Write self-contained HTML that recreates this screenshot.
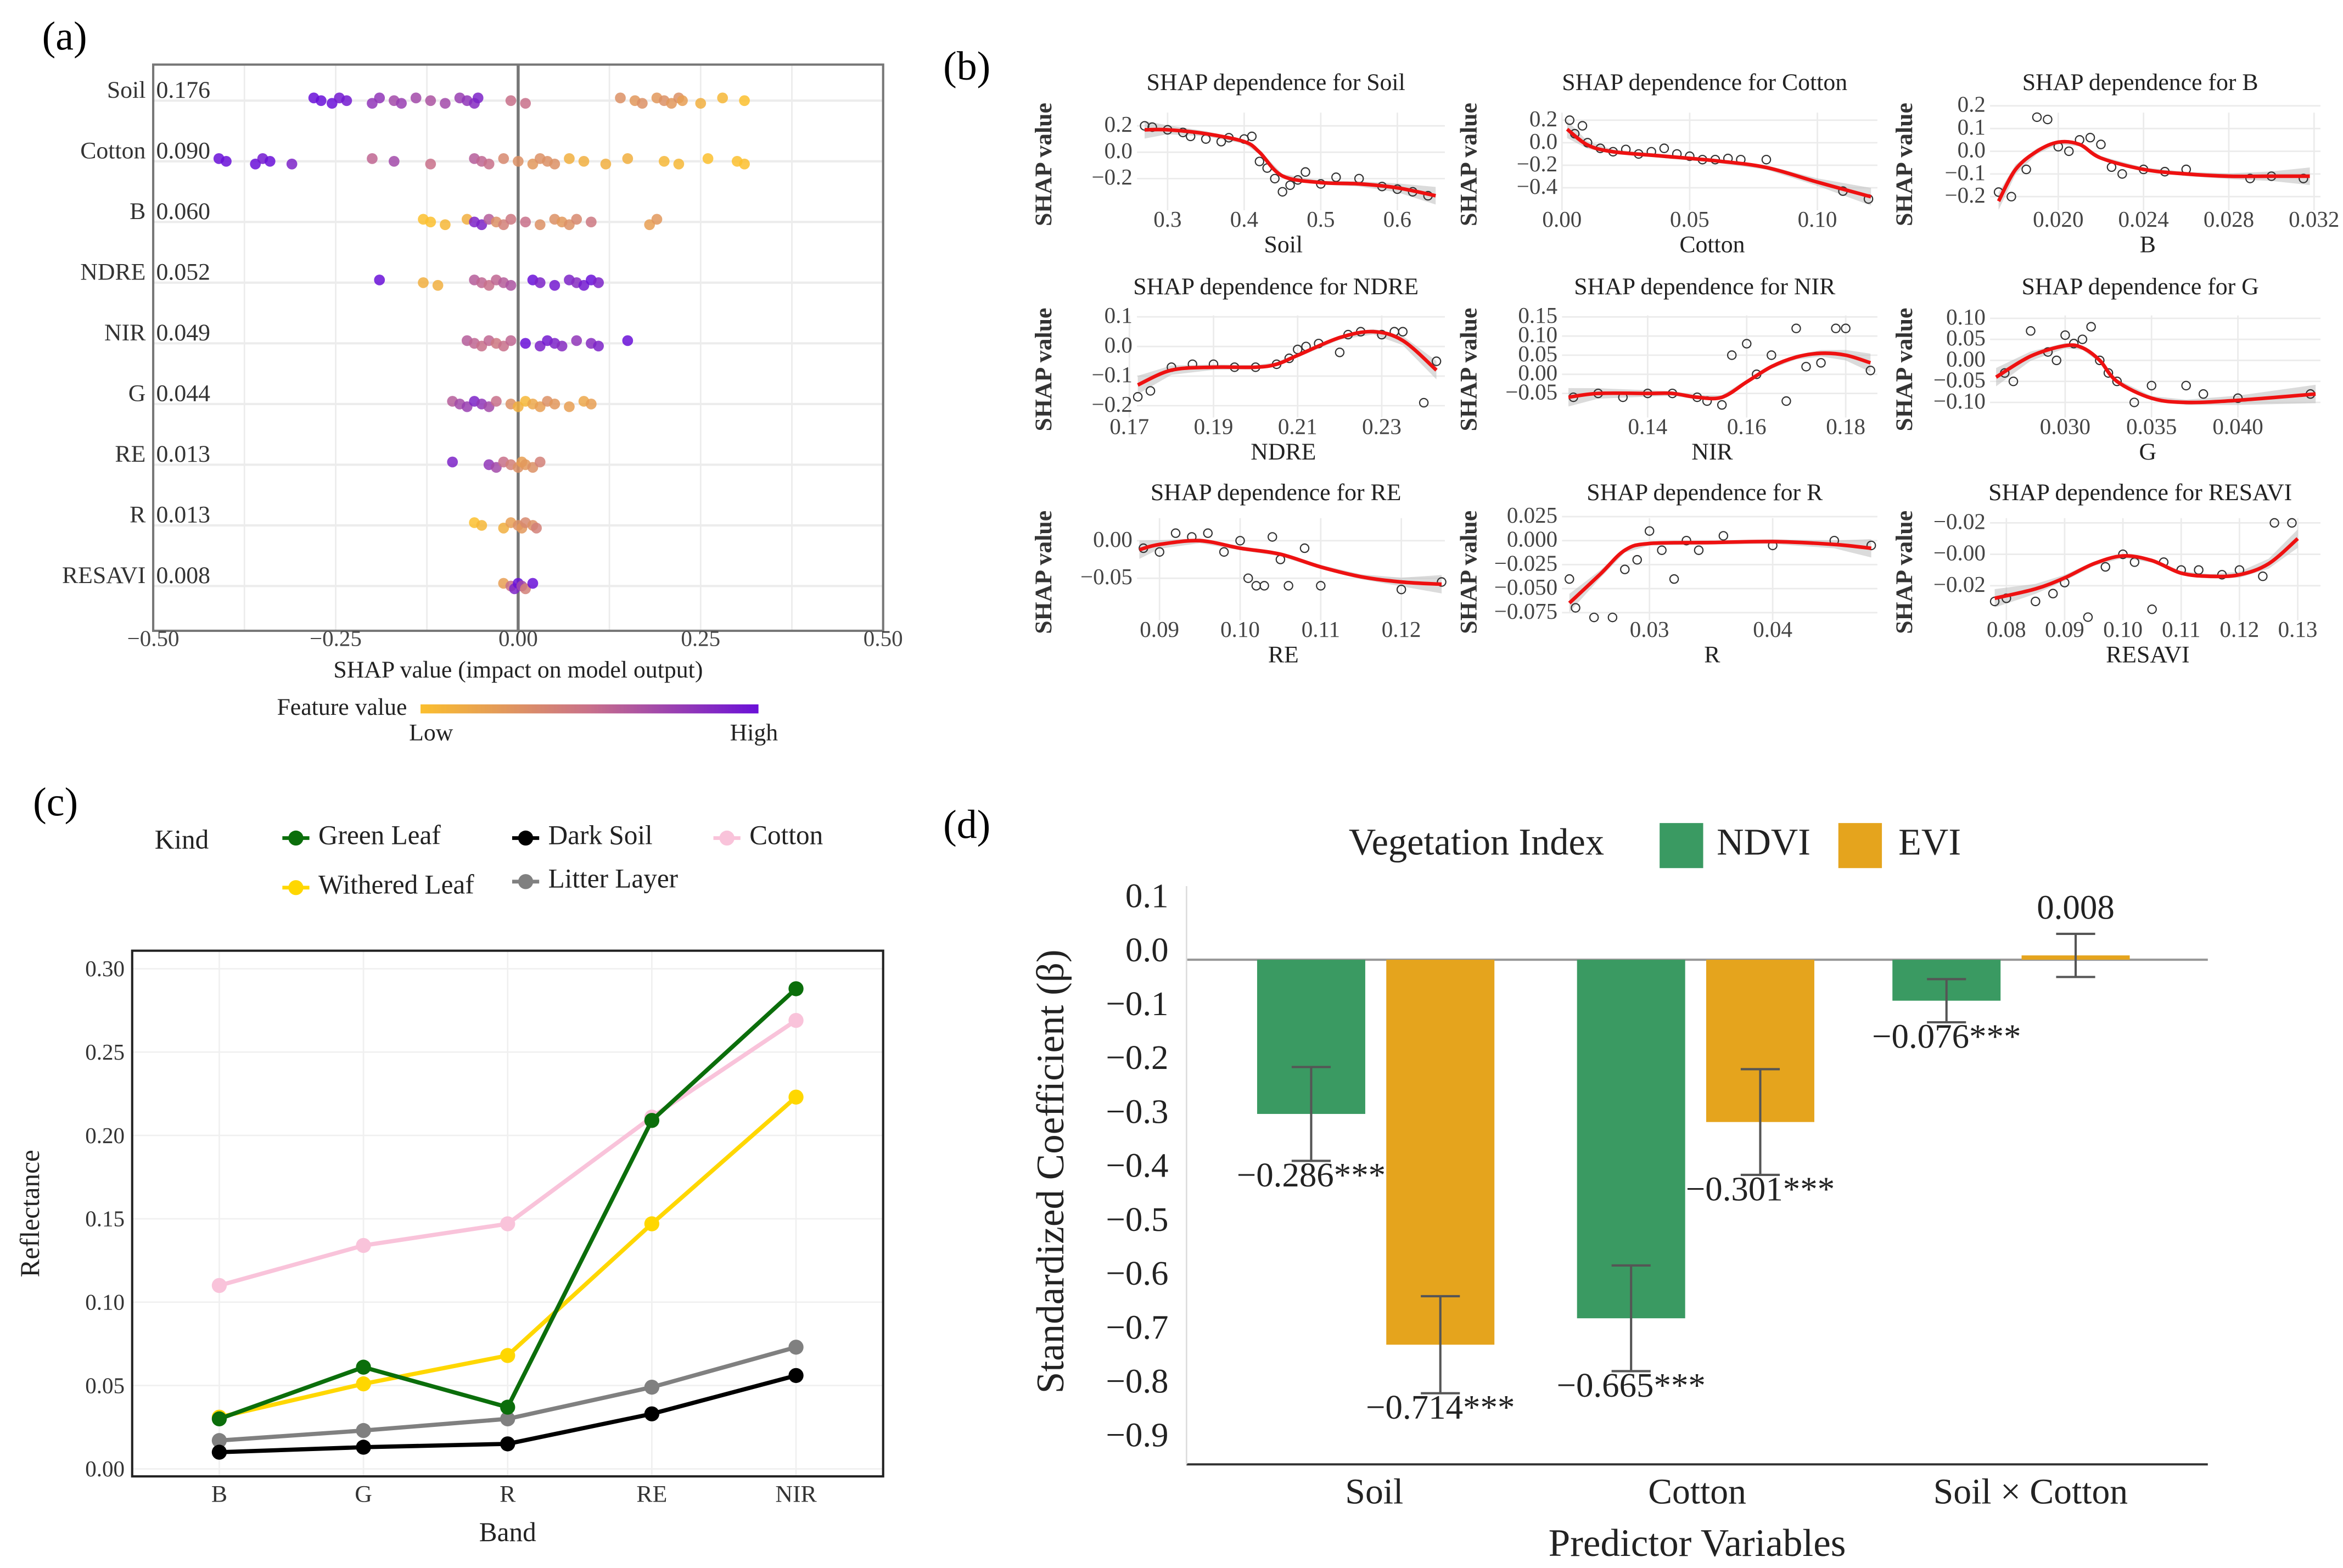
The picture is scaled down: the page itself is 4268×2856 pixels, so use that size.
<!DOCTYPE html>
<html><head><meta charset="utf-8"><style>
html,body{margin:0;padding:0;background:#fff}
svg{display:block;font-family:"Liberation Serif",serif}
</style></head><body>
<svg id="fig" width="4268" height="2856" viewBox="0 0 1560 1044" preserveAspectRatio="none" xmlns="http://www.w3.org/2000/svg">
<defs>
<linearGradient id="fv" x1="0" x2="1"><stop offset="0" stop-color="#fbbf2e"/><stop offset="0.5" stop-color="#c8708a"/><stop offset="1" stop-color="#6a10d8"/></linearGradient>
</defs>
<g id="pa"></g>
<g id="pb"></g>
<g id="pc"></g>
<g id="pd"></g>
</svg>
<script>
// ---------- Panel A data ----------
const aFeatures=["Soil","Cotton","B","NDRE","NIR","G","RE","R","RESAVI"];
const aImportance=["0.176","0.090","0.060","0.052","0.049","0.044","0.013","0.013","0.008"];
const shapSoil=[-0.28,-0.27,-0.255,-0.245,-0.235,-0.2,-0.19,-0.17,-0.16,-0.14,-0.12,-0.1,-0.08,-0.07,-0.06,-0.055,-0.01,0.01,0.14,0.16,0.17,0.19,0.2,0.21,0.22,0.225,0.25,0.28,0.31];
const featSoil=[1,1,1,0.95,0.95,0.8,0.8,0.7,0.75,0.7,0.65,0.7,0.75,0.8,0.85,0.9,0.5,0.5,0.3,0.25,0.3,0.25,0.3,0.25,0.3,0.2,0.1,0.05,0];
const shapCotton=[-0.41,-0.4,-0.36,-0.35,-0.34,-0.31,-0.2,-0.17,-0.12,-0.06,-0.05,-0.04,-0.02,0,0.02,0.03,0.04,0.05,0.07,0.09,0.12,0.15,0.2,0.22,0.26,0.3,0.31];
const featCotton=[1,1,1,0.95,1,0.9,0.55,0.7,0.5,0.6,0.55,0.5,0.35,0.3,0.25,0.3,0.3,0.3,0.1,0.1,0.1,0.1,0.05,0.05,0,0,0];
const shapB=[-0.13,-0.12,-0.1,-0.07,-0.06,-0.05,-0.04,-0.03,-0.02,-0.01,0.01,0.03,0.05,0.06,0.07,0.08,0.1,0.18,0.19];
const featB=[0,0,0.05,0.1,0.9,0.9,0.6,0.3,0.4,0.45,0.5,0.3,0.3,0.25,0.3,0.35,0.45,0.2,0.25];
const shapNDRE=[-0.19,-0.13,-0.11,-0.06,-0.05,-0.04,-0.03,-0.02,-0.01,0.02,0.03,0.05,0.07,0.08,0.09,0.1,0.11];
const featNDRE=[1,0.1,0.1,0.6,0.55,0.5,0.55,0.6,0.65,1,0.9,0.95,0.9,0.85,0.95,1,0.9];
const shapNIR=[-0.07,-0.06,-0.05,-0.04,-0.03,-0.02,-0.01,0.01,0.03,0.04,0.05,0.06,0.08,0.1,0.11,0.15];
const featNIR=[0.6,0.55,0.5,0.55,0.45,0.5,0.55,1,0.9,0.95,0.9,0.85,0.8,0.85,0.9,1];
const shapG=[-0.09,-0.08,-0.07,-0.06,-0.05,-0.04,-0.03,-0.01,0,0.01,0.02,0.03,0.04,0.05,0.07,0.09,0.1];
const featG=[0.6,0.7,0.75,0.9,0.8,0.7,0.5,0.3,0.1,0.05,0.15,0.2,0.3,0.25,0.2,0.15,0.2];
const shapRE=[-0.09,-0.04,-0.03,-0.02,-0.01,0,0.005,0.01,0.02,0.03];
const featRE=[0.9,0.8,0.7,0.5,0.4,0.3,0.2,0.25,0.3,0.4];
const shapR=[-0.06,-0.05,-0.02,-0.01,0,0.005,0.01,0.02,0.025];
const featR=[0,0.05,0.1,0.2,0.3,0.25,0.35,0.3,0.4];
const shapRESAVI=[-0.02,-0.01,-0.005,0,0.005,0.01,0.02];
const featRESAVI=[0.2,0.5,0.9,1,0.7,0.4,1];
const aShap=[shapSoil,shapCotton,shapB,shapNDRE,shapNIR,shapG,shapRE,shapR,shapRESAVI];
const aFeat=[featSoil,featCotton,featB,featNDRE,featNIR,featG,featRE,featR,featRESAVI];
const aTicks=[-0.5,-0.25,0,0.25,0.5];
const aTickLabels=["−0.50","−0.25","0.00","0.25","0.50"];

// ---------- Panel B data ----------
const bTitles=["Soil","Cotton","B","NDRE","NIR","G","RE","R","RESAVI"];
const bXDom=[[0.26,0.662],[0,0.1235],[0.0168,0.0323],[0.1718,0.245],[0.1227,0.1864],[0.02565,0.04478],[0.0872,0.1254],[0.0229,0.0485],[0.0772,0.1339]];
const bYDom=[[-0.44,0.3],[-0.6,0.267],[-0.26,0.17],[-0.24,0.105],[-0.113,0.154],[-0.136,0.107],[-0.106,0.03],[-0.083,0.0234],[-0.042,0.023]];
const bXTicks=[[0.3,0.4,0.5,0.6],[0,0.05,0.1],[0.02,0.024,0.028,0.032],[0.17,0.19,0.21,0.23],[0.14,0.16,0.18],[0.03,0.035,0.04],[0.09,0.1,0.11,0.12],[0.03,0.04],[0.08,0.09,0.1,0.11,0.12,0.13]];
const bXTickLabels=[["0.3","0.4","0.5","0.6"],["0.00","0.05","0.10"],["0.020","0.024","0.028","0.032"],["0.17","0.19","0.21","0.23"],["0.14","0.16","0.18"],["0.030","0.035","0.040"],["0.09","0.10","0.11","0.12"],["0.03","0.04"],["0.08","0.09","0.10","0.11","0.12","0.13"]];
const bYTicks=[[0.2,0,-0.2],[0.2,0,-0.2,-0.4],[0.2,0.1,0,-0.1,-0.2],[0.1,0,-0.1,-0.2],[0.15,0.1,0.05,0,-0.05],[0.1,0.05,0,-0.05,-0.1],[0,-0.05],[0.025,0,-0.025,-0.05,-0.075],[0.02,0,-0.02]];
const bYTickLabels=[["0.2","0.0","−0.2"],["0.2","0.0","−0.2","−0.4"],["0.2","0.1","0.0","−0.1","−0.2"],["0.1","0.0","−0.1","−0.2"],["0.15","0.10","0.05","0.00","−0.05"],["0.10","0.05","0.00","−0.05","−0.10"],["0.00","−0.05"],["0.025","0.000","−0.025","−0.050","−0.075"],["−0.02","−0.00","−0.02"]];
const bCurveX=[[0.27,0.3,0.35,0.4,0.42,0.45,0.5,0.55,0.6,0.65],[0.002,0.01,0.02,0.04,0.06,0.08,0.1,0.121],[0.0172,0.018,0.019,0.02,0.021,0.022,0.024,0.026,0.028,0.03,0.0318],[0.172,0.18,0.19,0.2,0.205,0.21,0.22,0.228,0.235,0.243],[0.124,0.13,0.14,0.145,0.15,0.155,0.16,0.165,0.17,0.175,0.18,0.185],[0.026,0.028,0.03,0.031,0.032,0.033,0.035,0.037,0.04,0.0445],[0.0875,0.09,0.095,0.1,0.105,0.11,0.115,0.12,0.125],[0.0235,0.026,0.028,0.03,0.035,0.04,0.045,0.048],[0.078,0.085,0.09,0.095,0.1,0.105,0.11,0.115,0.12,0.125,0.13]];
const bCurveY=[[0.17,0.17,0.14,0.08,0.0,-0.18,-0.23,-0.24,-0.27,-0.33],[0.12,-0.02,-0.08,-0.12,-0.16,-0.22,-0.35,-0.48],[-0.22,-0.08,0.0,0.04,0.03,-0.03,-0.08,-0.1,-0.11,-0.11,-0.11],[-0.13,-0.08,-0.07,-0.07,-0.06,-0.03,0.03,0.05,0.02,-0.08],[-0.06,-0.05,-0.05,-0.05,-0.06,-0.06,-0.02,0.02,0.045,0.055,0.05,0.03],[-0.04,0.01,0.035,0.03,0.0,-0.05,-0.09,-0.1,-0.095,-0.08],[-0.012,-0.005,0.0,-0.01,-0.018,-0.035,-0.048,-0.055,-0.058],[-0.065,-0.035,-0.01,-0.003,-0.002,-0.001,-0.004,-0.008],[-0.028,-0.022,-0.015,-0.006,-0.001,-0.004,-0.012,-0.014,-0.013,-0.006,0.01]];
const bPtsX=[[0.27,0.28,0.3,0.32,0.33,0.35,0.37,0.38,0.4,0.41,0.42,0.43,0.44,0.45,0.46,0.47,0.48,0.5,0.52,0.55,0.58,0.6,0.62,0.64],[0.003,0.005,0.008,0.01,0.015,0.02,0.025,0.03,0.035,0.04,0.045,0.05,0.055,0.06,0.065,0.07,0.08,0.11,0.12],[0.0172,0.0178,0.0185,0.019,0.0195,0.02,0.0205,0.021,0.0215,0.022,0.0225,0.023,0.024,0.025,0.026,0.029,0.030,0.0315],[0.172,0.175,0.18,0.185,0.19,0.195,0.2,0.205,0.208,0.21,0.212,0.215,0.22,0.222,0.225,0.23,0.233,0.235,0.24,0.243],[0.125,0.13,0.135,0.14,0.145,0.15,0.152,0.155,0.157,0.16,0.162,0.165,0.168,0.17,0.172,0.175,0.178,0.18,0.185],[0.0265,0.027,0.028,0.029,0.0295,0.03,0.0305,0.031,0.0315,0.032,0.0325,0.033,0.034,0.035,0.037,0.038,0.04,0.0442],[0.088,0.09,0.092,0.094,0.096,0.098,0.1,0.101,0.102,0.103,0.104,0.105,0.106,0.108,0.11,0.12,0.125],[0.0235,0.024,0.0255,0.027,0.028,0.029,0.03,0.031,0.032,0.033,0.034,0.036,0.04,0.045,0.048],[0.078,0.08,0.085,0.088,0.09,0.094,0.097,0.1,0.102,0.105,0.107,0.11,0.113,0.117,0.12,0.124,0.126,0.129]];
const bPtsY=[[0.2,0.19,0.17,0.15,0.12,0.1,0.08,0.11,0.1,0.12,-0.07,-0.12,-0.2,-0.3,-0.25,-0.21,-0.15,-0.24,-0.19,-0.2,-0.26,-0.28,-0.3,-0.33],[0.2,0.08,0.15,0.0,-0.05,-0.08,-0.06,-0.1,-0.08,-0.05,-0.1,-0.12,-0.15,-0.15,-0.14,-0.15,-0.15,-0.43,-0.5],[-0.18,-0.2,-0.08,0.15,0.14,0.02,0.0,0.05,0.06,0.03,-0.07,-0.1,-0.08,-0.09,-0.08,-0.12,-0.11,-0.12],[-0.17,-0.15,-0.07,-0.06,-0.06,-0.07,-0.07,-0.06,-0.04,-0.01,0.0,0.01,-0.02,0.04,0.05,0.04,0.05,0.05,-0.19,-0.05],[-0.06,-0.05,-0.06,-0.05,-0.05,-0.06,-0.07,-0.08,0.05,0.08,0.0,0.05,-0.07,0.12,0.02,0.03,0.12,0.12,0.01],[-0.03,-0.05,0.07,0.02,0.0,0.06,0.04,0.05,0.08,0.0,-0.03,-0.05,-0.1,-0.06,-0.06,-0.08,-0.09,-0.08],[-0.01,-0.015,0.01,0.005,0.01,-0.015,0.0,-0.05,-0.06,-0.06,0.005,-0.025,-0.06,-0.01,-0.06,-0.065,-0.055],[-0.04,-0.07,-0.08,-0.08,-0.03,-0.02,0.01,-0.01,-0.04,0.0,-0.01,0.005,-0.005,0.0,-0.005],[-0.03,-0.028,-0.03,-0.025,-0.018,-0.04,-0.008,0.0,-0.005,-0.035,-0.005,-0.01,-0.01,-0.013,-0.01,-0.014,0.02,0.02]];

// ---------- Panel C data ----------
const cBands=["B","G","R","RE","NIR"];
const cKinds=["Green Leaf","Withered Leaf","Dark Soil","Cotton","Litter Layer"];
const cGreen=[0.030,0.061,0.037,0.209,0.288];
const cWithered=[0.031,0.051,0.068,0.147,0.223];
const cDark=[0.010,0.013,0.015,0.033,0.056];
const cCotton=[0.110,0.134,0.147,0.211,0.269];
const cLitter=[0.017,0.023,0.030,0.049,0.073];
const cTicks=[0,0.05,0.1,0.15,0.2,0.25,0.3];
const cTickLabels=["0.00","0.05","0.10","0.15","0.20","0.25","0.30"];

// ---------- Panel D data ----------
const dCats=["Soil","Cotton","Soil × Cotton"];
const dNDVI=[-0.286,-0.665,-0.076];
const dEVI=[-0.714,-0.301,0.008];
const dNDVIerr=[0.087,0.098,0.04];
const dEVIerr=[0.09,0.098,0.04];
const dNDVIlab=["−0.286***","−0.665***","−0.076***"];
const dEVIlab=["−0.714***","−0.301***","0.008"];
const dTicks=[0.1,0,-0.1,-0.2,-0.3,-0.4,-0.5,-0.6,-0.7,-0.8,-0.9];
const dTickLabels=["0.1","0.0","−0.1","−0.2","−0.3","−0.4","−0.5","−0.6","−0.7","−0.8","−0.9"];

// ---------- helpers ----------
const NS="http://www.w3.org/2000/svg";
function mk(parent,tag,attrs,txt){const e=document.createElementNS(NS,tag);for(const k in attrs)e.setAttribute(k,attrs[k]);if(txt!==undefined)e.textContent=txt;parent.appendChild(e);return e;}
function lerp(a,b,t){return a+(b-a)*t;}
function fcol(t){const s=[[251,191,46],[200,112,138],[106,16,216]];let a,b,u;if(t<0.5){a=s[0];b=s[1];u=t*2}else{a=s[1];b=s[2];u=(t-0.5)*2}return `rgb(${Math.round(lerp(a[0],b[0],u))},${Math.round(lerp(a[1],b[1],u))},${Math.round(lerp(a[2],b[2],u))})`;}

// ---------- Panel A ----------
(function(){
const g=document.getElementById('pa');
const X0=102,X1=588,Y0=43,Y1=420;
const xs=v=>X0+(v+0.5)*(X1-X0);
const rowY=i=>67+i*40.4;
let t=mk(g,'text',{x:28,y:33,'font-size':27},'(a)');

[-0.375,-0.25,-0.125,0.125,0.25,0.375].forEach(v=>mk(g,'line',{x1:xs(v),x2:xs(v),y1:Y0,y2:Y1,stroke:'#ececec','stroke-width':1}));
aFeatures.forEach((f,i)=>mk(g,'line',{x1:X0,x2:X1,y1:rowY(i),y2:rowY(i),stroke:'#ececec','stroke-width':1.5}));
mk(g,'rect',{x:X0,y:Y0,width:X1-X0,height:Y1-Y0,fill:'none',stroke:'#777','stroke-width':1.5});
mk(g,'line',{x1:xs(0),x2:xs(0),y1:Y0,y2:Y1,stroke:'#777','stroke-width':2});
aFeatures.forEach((f,i)=>{
  let l=mk(g,'text',{x:97,y:rowY(i)-2,'font-size':16,'text-anchor':'end',fill:'#333'},f);
  
  let v=mk(g,'text',{x:104,y:rowY(i)-2,'font-size':16,fill:'#333'},aImportance[i]);
  
  aShap[i].forEach((s,j)=>{
    const c=mk(g,'circle',{cx:xs(s),cy:rowY(i)+((j%3)-1)*1.8,r:3.6,fill:fcol(aFeat[i][j]),opacity:0.85});
    
  });
});
aTicks.forEach((v,i)=>{const e=mk(g,'text',{x:xs(v),y:430,'font-size':15,'text-anchor':'middle',fill:'#444'},aTickLabels[i]);});
t=mk(g,'text',{x:345,y:451,'font-size':16,'text-anchor':'middle',fill:'#222'},'SHAP value (impact on model output)');

t=mk(g,'text',{x:271,y:476,'font-size':16,'text-anchor':'end',fill:'#222'},'Feature value');

t=mk(g,'rect',{x:280,y:469,width:225,height:6,fill:'url(#fv)'});

t=mk(g,'text',{x:287,y:493,'font-size':16,'text-anchor':'middle',fill:'#222'},'Low');

t=mk(g,'text',{x:502,y:493,'font-size':16,'text-anchor':'middle',fill:'#222'},'High');

})();

// ---------- Panel B ----------
(function(){
const g=document.getElementById('pb');
let t=mk(g,'text',{x:628,y:53,'font-size':27},'(b)');

const cols=[[757,962],[1040,1250],[1325,1545]];
const rows=[[75,140],[210,278],[345,413]];
const titleY=[60,196,333];
bTitles.forEach((name,k)=>{
  const r=Math.floor(k/3),c=k%3;
  const [px0,px1]=cols[c],[py0,py1]=rows[r];
  const sg=mk(g,'g',{});
  
  const xd=bXDom[k],yd=bYDom[k];
  const xs=v=>px0+(v-xd[0])/(xd[1]-xd[0])*(px1-px0);
  const ys=v=>py1-(v-yd[0])/(yd[1]-yd[0])*(py1-py0);
  bXTicks[k].forEach(v=>mk(sg,'line',{x1:xs(v),x2:xs(v),y1:py0,y2:py1,stroke:'#ebebeb','stroke-width':1}));
  bYTicks[k].forEach(v=>mk(sg,'line',{x1:px0,x2:px1,y1:ys(v),y2:ys(v),stroke:'#ebebeb','stroke-width':1}));
  const cx=bCurveX[k],cy=bCurveY[k],n=cx.length,span=yd[1]-yd[0];
  let up=[],dn=[];
  for(let i=0;i<n;i++){const e=Math.abs(i-(n-1)/2)/((n-1)/2);const w=span*(0.02+0.07*Math.pow(e,4));up.push(xs(cx[i])+','+ys(cy[i]+w));dn.unshift(xs(cx[i])+','+ys(cy[i]-w));}
  mk(sg,'polygon',{points:up.concat(dn).join(' '),fill:'#bdbdbd',opacity:0.55});
  bPtsX[k].forEach((x,i)=>{const p=mk(sg,'circle',{cx:xs(x),cy:ys(bPtsY[k][i]),r:2.8,fill:'none',stroke:'#333','stroke-width':0.8});});
  const P=cx.map((x,i)=>[xs(x),ys(cy[i])]);
  let d='M'+P[0][0]+','+P[0][1];
  for(let i=0;i<n-1;i++){const p0=P[Math.max(0,i-1)],p1=P[i],p2=P[i+1],p3=P[Math.min(n-1,i+2)];
    d+=` C${p1[0]+(p2[0]-p0[0])/6},${p1[1]+(p2[1]-p0[1])/6} ${p2[0]-(p3[0]-p1[0])/6},${p2[1]-(p3[1]-p1[1])/6} ${p2[0]},${p2[1]}`;}
  const cu=mk(sg,'path',{d:d,fill:'none',stroke:'#ee1111','stroke-width':2.4});
  
  bXTicks[k].forEach((v,i)=>mk(sg,'text',{x:xs(v),y:py1+11,'font-size':15,'text-anchor':'middle',fill:'#444'},bXTickLabels[k][i]));
  bYTicks[k].forEach((v,i)=>mk(sg,'text',{x:px0-3,y:ys(v)+4,'font-size':15,'text-anchor':'end',fill:'#444'},bYTickLabels[k][i]));
  mk(sg,'text',{x:(px0+px1)/2-10,y:titleY[r],'font-size':16,'text-anchor':'middle',fill:'#222'},'SHAP dependence for '+name);
  mk(sg,'text',{x:(px0+px1)/2-5,y:py1+28,'font-size':16,'text-anchor':'middle',fill:'#222'},name);
  const yl=[700,983,1273][c];
  mk(sg,'text',{x:yl,y:(py0+py1)/2+2,'font-size':16,'font-weight':'bold','text-anchor':'middle',fill:'#333',transform:`rotate(-90 ${yl} ${(py0+py1)/2+2})`},'SHAP value');
});
})();

// ---------- Panel C ----------
(function(){
const g=document.getElementById('pc');
let t=mk(g,'text',{x:22,y:543,'font-size':27},'(c)');

const X0=88,X1=588,Y0=633,Y1=983;
const xs=i=>146+i*96;
const ys=v=>978-v/0.30*333;
cTicks.forEach(v=>mk(g,'line',{x1:X0,x2:X1,y1:ys(v),y2:ys(v),stroke:'#f0f0f0','stroke-width':1}));
cBands.forEach((b,i)=>mk(g,'line',{x1:xs(i),x2:xs(i),y1:Y0,y2:Y1,stroke:'#f0f0f0','stroke-width':1}));
mk(g,'rect',{x:X0,y:Y0,width:X1-X0,height:Y1-Y0,fill:'none',stroke:'#222','stroke-width':1.5});
cTicks.forEach((v,i)=>{const e=mk(g,'text',{x:83,y:ys(v)+5,'font-size':15,'text-anchor':'end',fill:'#333'},cTickLabels[i]);});
cBands.forEach((b,i)=>{const e=mk(g,'text',{x:xs(i),y:1000,'font-size':16,'text-anchor':'middle',fill:'#333'},b);});
t=mk(g,'text',{x:338,y:1026,'font-size':18,'text-anchor':'middle',fill:'#222'},'Band');

t=mk(g,'text',{x:26,y:808,'font-size':18,'text-anchor':'middle',fill:'#222',transform:'rotate(-90 26 808)'},'Reflectance');

const series=[[cCotton,'#f9c3da','cotton'],[cWithered,'#ffd700','withered-leaf'],[cLitter,'#808080','litter-layer'],[cDark,'#000','dark-soil'],[cGreen,'#0b6e0b','green-leaf']];
series.forEach(([arr,col,nm])=>{
  const l=mk(g,'polyline',{points:arr.map((v,i)=>xs(i)+','+ys(v)).join(' '),fill:'none',stroke:col,'stroke-width':2.8});
  
  arr.forEach((v,i)=>{const p=mk(g,'circle',{cx:xs(i),cy:ys(v),r:5,fill:col});});
});
t=mk(g,'text',{x:103,y:565,'font-size':18,fill:'#222'},'Kind');

const leg=[['Green Leaf','#0b6e0b',197,556],['Dark Soil','#000',350,556],['Cotton','#f9c3da',484,556],['Withered Leaf','#ffd700',197,589],['Litter Layer','#808080',350,585]];
leg.forEach(([n,c,x,y])=>{
  const lg=mk(g,'g',{});
  mk(lg,'line',{x1:x-9,x2:x+9,y1:y+2,y2:y+2,stroke:c,'stroke-width':2.5});
  mk(lg,'circle',{cx:x,cy:y+2,r:5,fill:c});
  mk(lg,'text',{x:x+15,y:y+6,'font-size':18,fill:'#222'},n);
});
})();

// ---------- Panel D ----------
(function(){
const g=document.getElementById('pd');
let t=mk(g,'text',{x:628,y:558,'font-size':27},'(d)');

const ys=v=>639-v*359;
const gx=[915,1128,1338];
const labX=[915,1130,1352];
mk(g,'line',{x1:790,x2:1470,y1:ys(0),y2:ys(0),stroke:'#999','stroke-width':1.5});
mk(g,'line',{x1:790,x2:1470,y1:975,y2:975,stroke:'#333','stroke-width':1.5});
mk(g,'line',{x1:790,x2:790,y1:590,y2:975,stroke:'#ddd','stroke-width':1});
dTicks.forEach((v,i)=>{const e=mk(g,'text',{x:778,y:ys(v)+1,'font-size':23,'text-anchor':'end',fill:'#222'},dTickLabels[i]);});
function bar(x,v,err,col,nm,lab,ly){
  const y0=ys(Math.max(0,v)),y1=ys(Math.min(0,v));
  const b=mk(g,'rect',{x:x-36,y:y0,width:72,height:Math.max(1.5,y1-y0),fill:col});
  
  const eg=mk(g,'g',{stroke:'#555','stroke-width':1.5});
  
  mk(eg,'line',{x1:x,x2:x,y1:ys(v+err),y2:ys(v-err)});
  mk(eg,'line',{x1:x-13,x2:x+13,y1:ys(v+err),y2:ys(v+err)});
  mk(eg,'line',{x1:x-13,x2:x+13,y1:ys(v-err),y2:ys(v-err)});
  const l=mk(g,'text',{x:x,y:ly,'font-size':23,'text-anchor':'middle',fill:'#222'},lab);
  
}
dCats.forEach((c,i)=>{
  bar(gx[i]-42,dNDVI[i],dNDVIerr[i],'#3a9a62','ndvi-'+i,dNDVIlab[i],ys(dNDVI[i]-dNDVIerr[i])+17);
  bar(gx[i]+44,dEVI[i],dEVIerr[i],'#e5a41d','evi-'+i,dEVIlab[i],dEVI[i]>0?ys(dEVI[i]+dEVIerr[i])-10:ys(dEVI[i]-dEVIerr[i])+17);
  const e=mk(g,'text',{x:labX[i],y:1001,'font-size':24,'text-anchor':'middle',fill:'#222'},c);
  
});
t=mk(g,'text',{x:1130,y:1036,'font-size':26,'text-anchor':'middle',fill:'#222'},'Predictor Variables');

t=mk(g,'text',{x:708,y:780,'font-size':26,'text-anchor':'middle',fill:'#222',transform:'rotate(-90 708 780)'},'Standardized Coefficient (β)');

t=mk(g,'text',{x:898,y:569,'font-size':25,fill:'#222'},'Vegetation Index');

t=mk(g,'rect',{x:1105,y:548,width:29,height:30,fill:'#3a9a62'});
t=mk(g,'text',{x:1143,y:569,'font-size':25,fill:'#222'},'NDVI');
t=mk(g,'rect',{x:1224,y:548,width:29,height:30,fill:'#e5a41d'});
t=mk(g,'text',{x:1264,y:569,'font-size':25,fill:'#222'},'EVI');
})();
</script>
</body></html>
